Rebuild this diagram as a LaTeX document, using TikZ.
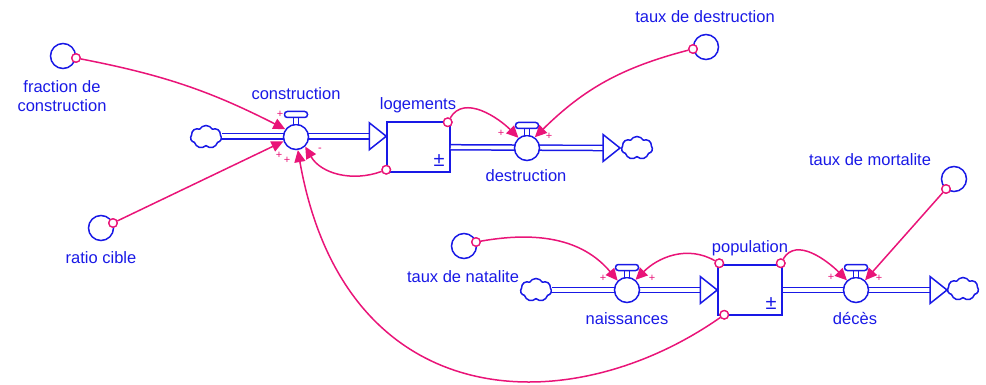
\documentclass[tikz,border=0pt]{standalone}
\usepackage{fontspec}
\setmainfont{Liberation Sans}
\usetikzlibrary{shapes.symbols,arrows.meta,calc}
\definecolor{sdblue}{RGB}{25,25,230}
\definecolor{sdpink}{RGB}{233,20,120}
\newcommand{\vhandle}[1]{%
  \draw[stemst] ($(#1)+(-2.5,12.5)$) rectangle ($(#1)+(2.5,19.5)$);
  \draw[handlest] ($(#1)+(-11.5,19.5)$) rectangle ($(#1)+(11.5,25.5)$);}
\newcommand{\phead}[1]{%
  \draw[headst] ($(#1)+(-17,13.5)$) -- (#1) -- ($(#1)+(-17,-13.5)$) -- cycle;}
\begin{document}
\begin{tikzpicture}[x=1pt,y=1pt,
  lbl/.style={text=sdblue, font=\fontsize{16.5}{19}\selectfont, inner sep=0pt, anchor=base},
  aux/.style={circle, draw=sdblue, line width=1.5pt, fill=white, minimum size=25pt, inner sep=0pt},
  valvest/.style={circle, draw=sdblue, line width=1.5pt, fill=white, minimum size=25pt, inner sep=0pt},
  stockst/.style={rectangle, draw=sdblue, line width=1.5pt, fill=white, minimum width=63pt, minimum height=50pt, inner sep=0pt},
  cloudn/.style={cloud, cloud puffs=7, cloud puff arc=120, aspect=1.35, draw=sdblue, line width=1.5pt, fill=white, minimum width=31pt, minimum height=23pt, inner sep=0pt},
  pipe/.style={draw=sdblue, line width=1.5pt, double=white, double distance=3.6pt},
  headst/.style={draw=sdblue, line width=1.5pt, fill=white, line join=miter},
  handlest/.style={draw=sdblue, line width=1.5pt, fill=white, rounded corners=2.8pt},
  stemst/.style={draw=sdblue, line width=1.3pt, fill=white},
  link/.style={draw=sdpink, line width=1.5pt, -{Triangle[length=12pt,width=11pt]}},
  src/.style={circle, draw=sdpink, line width=1.3pt, fill=white, minimum size=8.5pt, inner sep=0pt},
  sgn/.style={text=sdpink, font=\fontsize{11}{11}\selectfont, inner sep=0pt},
  pm/.style={text=sdblue, font=\fontsize{20}{20}\selectfont, inner sep=0pt, anchor=base},
]
\useasboundingbox (0,0) rectangle (986,-385);

% clouds
\node[cloudn] (cl1) at (206,-137) {};
\node[cloudn] (cl2) at (637,-148) {};
\node[cloudn] (cl3) at (536,-290) {};
\node[cloudn] (cl4) at (963,-289) {};

% stocks
\node[stockst] (logS) at (418.5,-147) {};
\node[stockst, minimum width=64pt] (popS) at (750,-290) {};

% pipe end coordinates
\coordinate (ctip) at ($(logS.north west)+(0,-15)$);
\coordinate (dsrc) at ($(logS.north east)+(0,-26)$);
\coordinate (dtip) at (620,-148);
\coordinate (ntip) at (popS.west);
\coordinate (ddtip) at (947,-290);

% pipes
\draw[pipe] (cl1.east |- ctip) -- ($(ctip)+(-17,0)$);
\draw[pipe] (dsrc) -- ($(dtip)+(-17,0)$);
\draw[pipe] (cl3.east |- ntip) -- ($(ntip)+(-17,0)$);
\draw[pipe] (popS.east) -- ($(ddtip)+(-17,0)$);
\phead{ctip}
\phead{dtip}
\phead{ntip}
\phead{ddtip}

% valves
\node[valvest] (cv) at (296,-137) {};
\node[valvest] (dv) at (527,-148) {};
\node[valvest] (nv) at (627,-290) {};
\node[valvest] (ddv) at (856,-290) {};
\vhandle{cv}
\vhandle{dv}
\vhandle{nv}
\vhandle{ddv}

% auxiliaries
\node[aux] (fc) at (63,-56) {};
\node[aux] (rc) at (101,-228) {};
\node[aux] (td) at (706,-47) {};
\node[aux] (tm) at (954,-179) {};
\node[aux] (tn) at (464,-246) {};

% link sources
\node[src] (fcS) at (76,-58) {};
\node[src] (rcS) at (113,-223) {};
\node[src] (tdS) at (693,-49) {};
\node[src] (tmS) at (946,-189) {};
\node[src] (tnS) at (476,-242) {};
\node[src] (logTR) at ($(logS.north east)+(-3,-1)$) {};
\node[src] (logBL) at ($(logS.south west)+(0,3)$) {};
\node[src] (popTL) at ($(popS.north west)+(2,1)$) {};
\node[src] (popTR) at ($(popS.north east)+(-2,1)$) {};
\node[src] (popBL) at ($(popS.south west)+(7,1)$) {};

% links
\draw[link] (fcS) to[bend left=8] (cv.144);
\draw[link] (rcS) -- (cv.199);
\draw[link] (logBL) to[out=200,in=-60] (cv.314);
\draw[link] (popBL) .. controls +(-156,-109) and +(47,-266) .. (cv.278);
\draw[link] (logTR) to[out=60,in=135] (dv.130);
\draw[link] (tdS) to[bend right=15] (dv.54);
\draw[link] (tnS) to[out=10,in=130] (nv.135);
\draw[link] (popTL) to[out=150,in=45] (nv.50);
\draw[link] (popTR) to[out=60,in=135] (ddv.133);
\draw[link] (tmS) -- (ddv.47);

% redraw source circles on top
\node[src] at (fcS) {};
\node[src] at (rcS) {};
\node[src] at (tdS) {};
\node[src] at (tmS) {};
\node[src] at (tnS) {};
\node[src] at (logTR) {};
\node[src] at (logBL) {};
\node[src] at (popTL) {};
\node[src] at (popTR) {};
\node[src] at (popBL) {};

% signs
\node[sgn] (s1) at (280,-114) {+};
\node[sgn] (s2) at (279,-155) {+};
\node[sgn] (s3) at (287,-160) {+};
\node[sgn] (s4) at (320,-150) {-};
\node[sgn] (s5) at (501,-133) {+};
\node[sgn] (s6) at (549,-136) {+};
\node[sgn] (s7) at (603,-278) {+};
\node[sgn] (s8) at (652,-278) {+};
\node[sgn] (s9) at (831,-277) {+};
\node[sgn] (s10) at (879,-278) {+};

% labels
\node[lbl] (consL) at (296,-100) {construction};
\node[lbl] (logL) at (418,-110) {logements};
\node[lbl] (desL) at (526,-182) {destruction};
\node[lbl] (tdL) at (705,-23) {taux de destruction};
\node[lbl] (tmL) at (870,-166) {taux de mortalite};
\node[lbl] (tnL) at (463,-282) {taux de natalite};
\node[lbl] (rcL) at (101,-263) {ratio cible};
\node[lbl] (fcL1) at (62,-93) {fraction de};
\node[lbl] (fcL2) at (62,-112) {construction};
\node[lbl] (popL) at (750,-252) {population};
\node[lbl] (naiL) at (627,-324) {naissances};
\node[lbl] (decL) at (855,-324) {décès};
\node[pm] (pm1) at (439,-167) {±};
\node[pm] (pm2) at (771,-309) {±};
\end{tikzpicture}
\end{document}
